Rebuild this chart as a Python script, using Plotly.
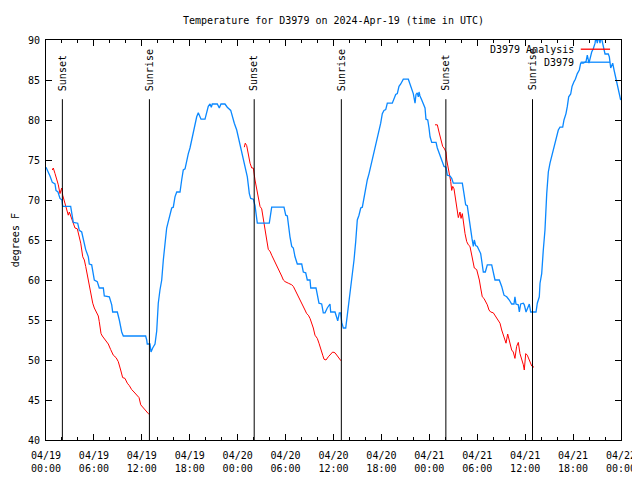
import plotly.graph_objects as go

# Hours since 2024-04-19 00:00 UTC
obs_hours = [0.0, 0.29, 0.50, 0.79, 1.13, 1.25, 1.50, 1.75, 2.00, 2.09, 3.09, 3.22, 3.42, 3.97, 4.17, 4.47, 4.67,
             4.97, 5.30, 5.42, 5.72, 6.05, 6.42, 6.67, 7.18, 7.30, 7.93, 8.23, 8.35, 8.93, 9.18, 9.48, 9.68,
             12.48, 12.61, 12.68, 13.02, 13.15, 13.36, 13.65, 13.86, 14.06, 14.27, 14.49, 14.69, 14.90, 15.11,
             15.31, 15.53, 15.74, 15.94, 16.15, 16.37, 16.78, 16.99, 17.19, 17.41, 17.62, 17.82, 18.03, 18.24,
             18.44, 18.66, 18.87, 19.07, 19.28, 19.41, 19.91, 20.12, 20.32, 20.54, 20.70, 20.82, 21.45, 21.70,
             21.91, 22.41, 22.70, 23.13, 23.38, 23.58, 23.88, 24.08, 24.29, 24.42, 24.63, 24.83, 25.04, 25.21,
             25.33, 25.46, 25.63, 25.96, 26.17, 26.30, 26.46, 27.96, 28.14, 28.26, 29.80, 30.02, 30.22, 30.34,
             30.55, 30.77, 30.97, 31.18, 31.47, 32.02, 32.22, 32.52, 32.72, 33.06, 33.15, 33.81, 33.97, 34.18,
             34.52, 34.72, 34.94, 35.22, 35.56, 35.65, 36.19, 36.40, 36.53, 36.73, 36.90, 37.03, 37.23, 37.53,
             37.73, 37.94, 38.15, 38.35, 38.57, 38.78, 38.98, 39.19, 39.41, 39.61, 39.82, 40.03, 40.23, 40.45,
             40.66, 40.86, 41.07, 41.29, 41.49, 41.70, 41.91, 42.11, 42.32, 42.54, 42.74, 43.36, 43.58, 43.79,
             43.99, 44.20, 44.42, 44.74, 45.37, 45.58, 45.79, 45.99, 46.21, 46.33, 46.49, 46.62, 46.71, 46.83,
             47.05, 47.25, 47.46, 47.58, 47.80, 47.96, 48.09, 48.30, 48.84, 49.00, 49.25, 49.46, 49.67, 49.84,
             50.09, 50.25, 50.59, 50.80, 51.00, 52.13, 52.34, 52.55, 52.75, 52.97, 53.18, 53.34, 53.51, 53.63,
             53.81, 54.01, 54.43, 54.60, 54.76, 55.01, 55.26, 55.81, 56.01, 56.22, 56.76, 57.06, 57.35, 57.69,
             58.01, 58.31, 58.60, 58.72, 58.85, 59.14, 59.27, 59.44, 59.77, 59.89, 60.11, 60.32, 60.52, 60.69,
             61.36, 61.52, 61.77, 61.86, 62.07, 62.27, 62.48, 62.70, 62.90, 63.11, 63.32, 63.52, 63.74, 63.95,
             64.15, 64.36, 64.70, 64.86, 65.11, 65.28, 65.45, 65.70, 65.87, 66.12, 66.28, 66.53, 66.78, 66.95,
             67.28, 67.62, 67.78, 67.99, 68.12, 68.33, 68.53, 68.75, 68.87, 69.03, 69.16, 69.37, 69.50, 69.71,
             69.87, 70.00, 70.41, 70.54, 70.71, 70.96, 71.13, 71.38, 71.66, 71.96]
obs_temps = [74.1, 73.5, 73.0, 72.2, 72.0, 71.2, 71.0, 70.2, 70.0, 69.2, 69.2, 68.4, 67.2, 67.1, 66.2, 66.0, 65.2,
             63.8, 62.9, 62.0, 61.9, 60.0, 59.8, 59.0, 59.0, 58.0, 57.9, 56.9, 56.0, 56.0, 55.0, 53.5, 53.0,
             53.0, 52.5, 52.0, 52.0, 51.0, 51.5, 52.0, 53.6, 57.1, 58.75, 60.0, 62.5, 64.6, 66.5,
             67.3, 68.1, 69.0, 69.1, 70.4, 71.0, 71.0, 72.5, 73.75, 73.9, 75.0, 75.8, 76.5, 77.5,
             78.5, 79.6, 80.4, 80.9, 80.5, 80.1, 80.1, 80.8, 81.7, 82.0, 81.6, 82.0, 82.0, 81.5,
             82.0, 82.0, 81.6, 81.2, 80.2, 79.6, 78.75, 77.9, 76.9, 76.25, 75.4, 74.6, 73.75, 72.9,
             71.9, 70.8, 70.2, 70.1, 69.3, 68.1, 67.1, 67.1, 68.5, 69.1, 69.1, 68.1, 68.0, 66.7,
             65.4, 64.2, 64.0, 62.9, 62.0, 62.0, 61.0, 60.9, 60.0, 60.0, 59.0, 59.0, 58.1, 57.1,
             57.0, 55.9, 55.9, 56.5, 57.0, 56.0, 56.0, 55.4, 54.9, 55.9, 55.9, 54.7, 54.0, 54.0,
             55.6, 57.5, 59.2, 60.8, 62.5, 64.8, 67.5, 68.1, 69.0, 69.1, 70.4, 71.5, 72.5, 73.3,
             74.2, 75.0, 75.8, 76.7, 77.5, 78.3, 79.6, 80.8, 81.2, 81.3, 82.1, 82.1, 82.7, 83.2,
             83.3, 84.2, 84.5, 85.1, 85.1, 84.5, 83.75, 83.3, 82.1, 83.2, 83.4, 82.9, 83.5, 83.0,
             82.5, 82.1, 81.5, 80.1, 80.0, 79.0, 77.9, 77.2, 77.2, 76.5, 75.8, 75.2, 74.6, 74.2,
             74.1, 73.1, 73.0, 72.7, 72.1, 72.1, 70.8, 69.4, 69.3, 67.5, 66.25, 65.2, 64.2, 65.0,
             64.3, 64.2, 63.3, 62.1, 61.0, 61.0, 61.9, 61.9, 60.8, 60.0, 60.0, 59.2, 58.1, 57.9,
             57.5, 57.0, 57.0, 57.9, 57.0, 56.9, 56.0, 57.0, 57.1, 56.9, 56.0, 56.5, 57.0, 56.0,
             56.0, 57.1, 57.9, 59.6, 60.8, 63.75, 66.25, 70.8, 73.5, 74.6, 75.4, 76.5, 77.1, 77.9,
             78.75, 79.1, 79.1, 80.0, 80.8, 81.7, 82.9, 83.25, 84.2, 84.8, 85.1, 85.8, 86.25, 87.1,
             87.1, 87.3, 88.1, 87.1, 87.7, 88.5, 88.9, 89.6, 90.5, 89.6, 90.5, 89.6, 90.5, 89.4,
             88.9, 88.25, 88.25, 87.9, 86.5, 87.1, 86.25, 85.0, 83.75, 82.5]

# Analysis series: three overnight segments (None separates them)
ana_hours = [0.79, 0.91, 1.13, 1.34, 1.54, 1.75, 1.97, 2.09, 2.25, 2.50, 2.79, 2.92, 3.22, 3.42, 3.63, 3.92,
             4.17, 4.35, 4.60, 4.80, 4.97, 5.22, 5.42, 5.60, 5.72, 5.85, 6.05, 6.35, 6.55, 6.67, 6.89, 7.05,
             7.39, 7.80, 8.10, 8.43, 8.77, 9.05, 9.35, 9.60, 9.89, 10.18, 10.43, 10.73, 11.02, 11.36, 11.65,
             11.86, 12.18, 12.52, 12.81, 12.94,
             None,
             24.83, 24.95, 25.13, 25.33, 25.55, 25.76, 25.96, 26.17, 26.38, 26.58, 26.80, 27.01, 27.21, 27.42,
             27.64, 27.84, 28.05, 28.26, 28.46, 28.68, 28.89, 29.09, 29.30, 29.51, 29.72, 29.93, 30.34, 30.77,
             30.97, 31.18, 31.39, 31.59, 31.81, 32.02, 32.22, 32.43, 32.64, 32.85, 33.06, 33.27, 33.47, 33.68,
             33.97, 34.18, 34.40, 34.65, 34.81, 35.06, 35.35, 35.65, 35.90, 36.19, 36.48, 36.73, 36.94,
             None,
             48.71, 49.00, 49.21, 49.42, 49.67, 49.84, 50.09, 50.18, 50.38, 50.50, 50.68, 50.80, 50.93, 51.09,
             51.26, 51.43, 51.63, 51.84, 51.97, 52.13, 52.26, 52.47, 52.68, 52.88, 53.09, 53.26, 53.43, 53.63,
             53.93, 54.06, 54.26, 54.43, 54.63, 54.84, 55.06, 55.26, 55.47, 55.68, 56.01, 56.22, 56.43, 56.63,
             56.85, 57.06, 57.26, 57.48, 57.60, 57.81, 57.94, 58.10, 58.31, 58.51, 58.72, 58.93, 59.14, 59.35,
             59.56, 59.77, 59.89, 60.07, 60.27, 60.48, 60.69, 60.82, 61.11]
ana_temps = [73.75, 74.0, 73.3, 72.6, 71.9, 70.8, 71.5, 70.6, 70.0, 69.2, 68.1, 68.5, 67.7, 67.1, 66.5, 66.4,
             65.4, 64.6, 62.9, 62.5, 61.7, 60.4, 59.2, 58.5, 58.0, 57.1, 56.5, 55.8, 55.5, 54.8, 53.3, 53.0,
             52.5, 52.0, 51.3, 50.6, 50.3, 49.8, 48.75, 47.8, 47.7, 47.1, 46.8, 46.3, 46.0, 45.6, 45.3,
             44.4, 44.0, 43.7, 43.3, 43.2,
             None,
             76.6, 77.1, 76.8, 75.6, 74.6, 74.0, 74.0, 72.5, 71.25, 70.2, 69.2, 68.9, 67.5, 66.25,
             65.0, 63.8, 63.6, 63.1, 62.7, 62.3, 61.9, 61.5, 61.0, 60.5, 60.0, 59.8, 59.6, 59.4,
             59.2, 58.8, 58.3, 57.9, 57.5, 57.2, 56.7, 56.25, 55.8, 55.6, 55.2, 54.6, 54.0, 53.1,
             52.7, 52.1, 51.5, 50.6, 50.1, 50.0, 50.4, 50.8, 51.0, 50.9, 50.5, 50.2, 49.9,
             None,
             79.4, 79.4, 78.5, 77.7, 76.7, 76.5, 76.0, 75.0, 74.0, 73.3, 72.3, 71.2, 71.7, 71.4,
             70.2, 69.4, 67.8, 68.5, 67.7, 68.3, 67.3, 65.8, 64.8, 64.4, 64.2, 63.3, 62.5, 61.5,
             61.3, 60.8, 60.0, 59.0, 57.9, 57.7, 57.3, 56.9, 56.25, 56.0, 55.9, 55.6, 55.2, 55.0,
             54.6, 53.75, 53.1, 52.5, 52.1, 53.25, 52.7, 51.9, 51.25, 51.0, 50.2, 51.7, 52.2, 50.8,
             50.2, 49.4, 48.75, 50.8, 50.6, 50.1, 49.6, 49.25, 49.1]

event_hours = [2.05, 12.95, 26.07, 36.98, 50.07, 60.92]
event_labels = ["Sunset", "Sunrise", "Sunset", "Sunrise", "Sunset", "Sunrise"]

tick_hours = list(range(0, 73, 6))
tick_labels = ["04/19<br>00:00", "04/19<br>06:00", "04/19<br>12:00", "04/19<br>18:00",
               "04/20<br>00:00", "04/20<br>06:00", "04/20<br>12:00", "04/20<br>18:00",
               "04/21<br>00:00", "04/21<br>06:00", "04/21<br>12:00", "04/21<br>18:00",
               "04/22<br>00:00"]

series_names = ["D3979 Analysis", "D3979"]
RED = "#ff0000"
BLUE = "#0a88ff"
FONT = "DejaVu Sans Mono"

# page body has an 8px margin, so the figure is 632x472 placed at (8, 8)
W, H = 632, 472
ML, MT, MR, MB = 38, 32, 19, 40

fig = go.Figure()
fig.add_trace(go.Scatter(x=ana_hours, y=ana_temps, mode="lines", name=series_names[0],
                         line=dict(color=RED, width=1), connectgaps=False, showlegend=False))
fig.add_trace(go.Scatter(x=obs_hours, y=obs_temps, mode="lines", name=series_names[1],
                         line=dict(color=BLUE, width=1.3), showlegend=False))

for h, lab in zip(event_hours, event_labels):
    fig.add_shape(type="line", xref="x", yref="y", x0=h, x1=h, y0=40, y1=82.6,
                  line=dict(color="black", width=1))
    fig.add_annotation(x=h, y=83.4, xref="x", yref="y", text=lab, textangle=-90,
                       showarrow=False, xanchor="center", yanchor="bottom",
                       font=dict(family=FONT, size=10, color="black"))

# Legend drawn gnuplot-style: text right-aligned, sample line to its right
for i, (name, col) in enumerate(zip(series_names, [RED, BLUE])):
    yp = 0.977 - i * 0.0325
    fig.add_annotation(x=0.922, y=yp, xref="paper", yref="paper", text=name, showarrow=False,
                       xanchor="right", yanchor="middle", font=dict(family=FONT, size=10, color="black"))
    fig.add_shape(type="line", xref="paper", yref="paper", x0=0.930, x1=0.981, y0=yp, y1=yp,
                  line=dict(color=col, width=1.3))

# y-axis title
fig.add_annotation(x=-0.0535, y=0.5, xref="paper", yref="paper", text="degrees F", textangle=-90,
                   showarrow=False, xanchor="center", yanchor="middle",
                   font=dict(family=FONT, size=10, color="black"))

fig.update_layout(
    width=W, height=H,
    margin=dict(l=ML, r=MR, t=MT, b=MB, autoexpand=False),
    paper_bgcolor="white", plot_bgcolor="white",
    font=dict(family=FONT, size=10, color="black"),
    title=dict(text="Temperature for D3979 on 2024-Apr-19 (time in UTC)", x=0.5, xanchor="center",
               xref="paper", y=1 - 12 / H, yref="container", yanchor="middle",
               font=dict(family=FONT, size=10)),
    showlegend=False,
)
fig.update_xaxes(range=[0, 72], tickvals=tick_hours, ticktext=tick_labels, ticks="inside", ticklen=6,
                 tickcolor="black", showline=True, linecolor="black", linewidth=1, mirror="allticks",
                 showgrid=False, zeroline=False, ticklabelstandoff=6, automargin=False,
                 minor=dict(ticks="inside", ticklen=3, dtick=2, tick0=0, tickcolor="black", showgrid=False))
fig.update_yaxes(range=[40, 90], dtick=5, tick0=40, ticks="inside", ticklen=6, tickcolor="black",
                 showline=True, linecolor="black", linewidth=1, mirror="allticks", showgrid=False,
                 zeroline=False, ticklabelstandoff=3, automargin=False)

fig.write_html("out.html")
